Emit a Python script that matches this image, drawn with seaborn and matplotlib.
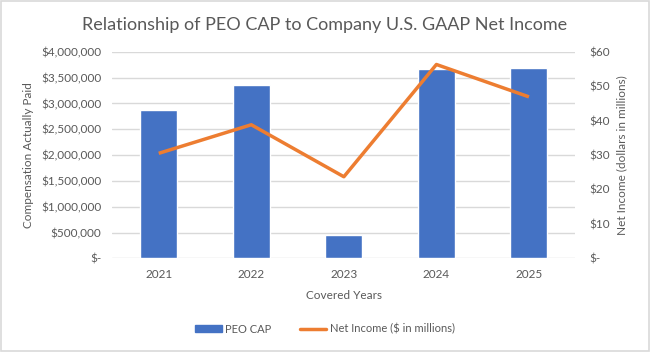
import matplotlib
matplotlib.use("Agg")
import matplotlib.pyplot as plt
import seaborn as sns
import pandas as pd
from matplotlib.ticker import FuncFormatter
from matplotlib.patches import Rectangle
from matplotlib.lines import Line2D

years = ["2021", "2022", "2023", "2024", "2025"]
peo_cap = [2870000, 3355000, 451000, 3665000, 3684000]
net_income = [30.5, 38.8, 23.7, 56.3, 46.9]

sns.set_theme(style="white")
plt.rcParams['font.family'] = ['Lato', 'DejaVu Sans']
gray = "#595959"

df = pd.DataFrame({"year": years, "cap": peo_cap, "ni": net_income})

fig = plt.figure(figsize=(6.5, 3.52), dpi=100)
ax = fig.add_axes([0.173, 0.266, 0.712, 0.587])
sns.barplot(data=df, x="year", y="cap", color="#4472C4", width=0.4, ax=ax,
            saturation=1, zorder=2)
ax.set_ylim(0, 4000000)
ax.set_yticks(range(0, 4000001, 500000))
ax.yaxis.grid(True, color="#D9D9D9", linewidth=1, zorder=0)
ax.set_axisbelow(True)
for s in ax.spines.values():
    s.set_visible(False)
ax.yaxis.set_major_formatter(FuncFormatter(lambda v, p: "$-" if v == 0 else f"${v:,.0f}"))
ax.tick_params(axis="both", length=0, labelsize=8.5, colors=gray, pad=8)
ax.set_ylabel("Compensation Actually Paid", fontsize=8.5, color=gray, labelpad=5)
ax.set_xlabel("Covered Years", fontsize=8.5, color=gray, labelpad=7)

ax2 = ax.twinx()
sns.lineplot(x=list(range(len(years))), y=net_income, color="#ED7D31", linewidth=2.5,
             ax=ax2, solid_capstyle="butt")
ax2.set_ylim(0, 60)
ax2.set_yticks(range(0, 61, 10))
ax2.yaxis.set_major_formatter(FuncFormatter(lambda v, p: "$-" if v == 0 else f"${v:,.0f}"))
for s in ax2.spines.values():
    s.set_visible(False)
ax2.tick_params(axis="y", length=0, labelsize=8.5, colors=gray, pad=10)
ax2.set_ylabel("Net Income (dollars in millions)", fontsize=8.5, color=gray, labelpad=5)
ax.set_xlim(-0.5, 4.5)

fig.text(0.5, 0.929, "Relationship of PEO CAP to Company U.S. GAAP Net Income",
         ha="center", va="center", fontsize=13, color=gray)

handles = [Rectangle((0, 0), 1, 1, color="#4472C4"),
           Line2D([0], [0], color="#ED7D31", linewidth=2.5)]
fig.legend(handles, ["PEO CAP", "Net Income ($ in millions)"], loc="center",
           bbox_to_anchor=(0.5, 0.065), ncol=2, frameon=False, fontsize=8,
           labelcolor=gray, handlelength=2.4, handleheight=0.6, columnspacing=2.5,
           handletextpad=0.3)

fig.patches.append(Rectangle((0.002, 0.003), 0.996, 0.994, transform=fig.transFigure,
                             fill=False, edgecolor="#D9D9D9", linewidth=1.2))
fig.savefig("out.png", dpi=100)
